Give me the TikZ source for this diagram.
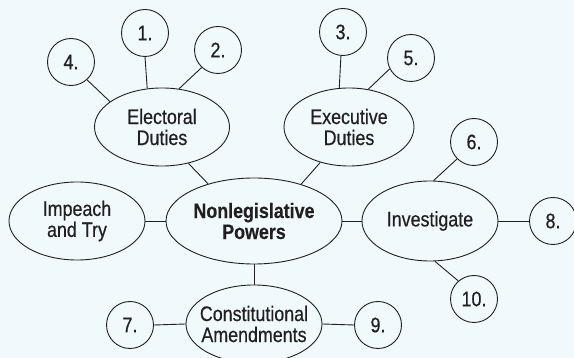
\documentclass[tikz,border=0pt]{standalone}
\usepackage{fontspec}
\setmainfont{Liberation Sans}[FakeStretch=0.85,FakeBold=0.5,BoldFeatures={FakeBold=0.3}]
\usetikzlibrary{shapes.geometric}
\definecolor{bgc}{RGB}{240,249,252}
\definecolor{ink}{RGB}{35,31,32}
\tikzset{
  ell/.style={draw=ink, line width=0.9pt, ellipse, inner sep=0pt},
  circ/.style={draw=ink, line width=0.9pt, circle, inner sep=0pt, minimum size=47pt,
    text=ink, font=\fontsize{21}{21}\selectfont},
  txt/.style={text=ink, align=center, inner sep=0pt, font=\fontsize{21}{21}\selectfont},
  btxt/.style={txt, font=\fontsize{21}{21}\selectfont\bfseries},
  conn/.style={draw=ink, line width=0.9pt}
}
\begin{document}
\begin{tikzpicture}[x=1pt,y=-1pt]
\useasboundingbox (0,0) rectangle (574,358);
\fill[bgc] (0,0) rectangle (574,358);

% ellipses
\node[ell, minimum width=135pt, minimum height=78pt] (ed) at (162,127) {};
\node[txt] (edt) at (ed) {Electoral\\Duties};
\node[ell, minimum width=130pt, minimum height=78pt] (ex) at (349,127) {};
\node[txt] (ext) at (ex) {Executive\\Duties};
\node[ell, minimum width=176pt, minimum height=86pt] (nl) at (254,221) {};
\node[btxt] (nlt) at (nl) {Nonlegislative\\Powers};
\node[ell, minimum width=136pt, minimum height=78pt] (im) at (77,221) {};
\node[txt] (imt) at (im) {Impeach\\and Try};
\node[ell, minimum width=136pt, minimum height=80pt] (inv) at (430,221) {};
\node[txt] (invt) at (inv) {Investigate};
\node[ell, minimum width=136pt, minimum height=78pt] (ca) at (254,324) {};
\node[txt] (cat) at (ca) {Constitutional\\Amendments};

% circles
\node[circ] (c1) at (145,33) {1.};
\node[circ] (c2) at (218,50) {2.};
\node[circ] (c3) at (343,32) {3.};
\node[circ] (c4) at (71,62) {4.};
\node[circ] (c5) at (411,58) {5.};
\node[circ] (c6) at (474,142) {6.};
\node[circ] (c7) at (130,325) {7.};
\node[circ] (c8) at (553,221) {8.};
\node[circ] (c9) at (378,325) {9.};
\node[circ] (c10) at (474,299) {10.};

% connectors
\draw[conn] (c1.south) -- (ed.111);
\draw[conn] (c2.227) -- (ed.66);
\draw[conn] (c4.312) -- (ed.154);
\draw[conn] (ed.306) -- (nl.141);
\draw[conn] (c3.265) -- (ex.104);
\draw[conn] (c5.207) -- (ex.63);
\draw[conn] (ex.231) -- (nl.38);
\draw[conn] (im.east) -- (nl.west);
\draw[conn] (nl.east) -- (inv.west);
\draw[conn] (inv.east) -- (c8.west);
\draw[conn] (c6.225) -- (inv.85);
\draw[conn] (inv.277) -- (c10.131);
\draw[conn] (nl.south) -- (ca.north);
\draw[conn] (c7.east) -- (ca.west);
\draw[conn] (ca.east) -- (c9.west);
\end{tikzpicture}
\end{document}
